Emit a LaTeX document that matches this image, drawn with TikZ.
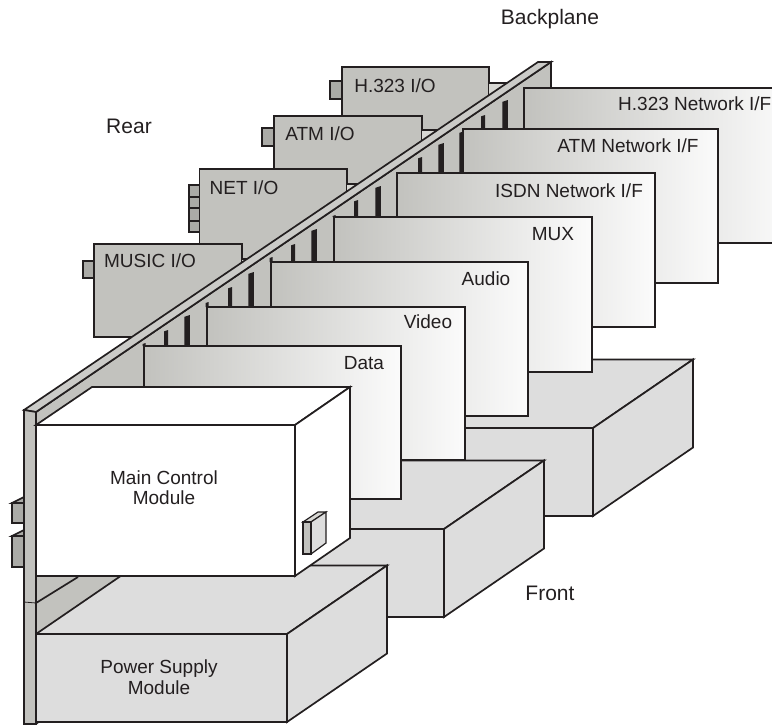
\documentclass[tikz,border=0pt]{standalone}
\usepackage{fontspec}
\setmainfont{Liberation Sans}
\usepackage{tikz}
\usetikzlibrary{calc}
\definecolor{inkline}{HTML}{231F20}
\definecolor{cardgray}{HTML}{C2C2BE}
\definecolor{plugray}{HTML}{ABABA7}
\definecolor{shelfgray}{HTML}{DDDDDD}
\definecolor{slivergray}{HTML}{D8D8D4}
\definecolor{boardend}{HTML}{FBFBFB}
\tikzset{
  wire/.style={draw=inkline, line width=1.7pt, line join=miter},
  rearcard/.style={wire, fill=cardgray},
  plug/.style={wire, fill=plugray},
  shelf/.style={wire, fill=shelfgray},
  module/.style={wire, fill=white},
  boardshade/.style={left color=cardgray, right color=boardend},
  lbl/.style={text=inkline, font=\fontsize{19}{20.5}\selectfont, align=center, inner sep=0pt},
  biglbl/.style={lbl, font=\fontsize{21}{22}\selectfont}
}
% one chassis: front top right corner given
\newcommand{\chassis}[2]{
  \draw[shelf] ({#1-251},#2) -- ({#1-151},{#2-68.5}) -- ({#1+100},{#2-68.5}) -- (#1,#2) -- cycle;
  \draw[shelf] (#1,#2) -- ({#1+100},{#2-68.5}) -- ({#1+100},{#2+19.5}) -- (#1,{#2+88}) -- cycle;
  \draw[shelf] ({#1-251},#2) rectangle (#1,{#2+88});
}
% one board: name, left, top, right, bottom
\newcommand{\board}[5]{
  \shade[boardshade] (#2,#3) rectangle (#4,#5);
  \draw[wire] (#2,#5) -- (#2,#3) -- (#4,#3) -- (#4,#5) -- cycle;
}
\begin{document}
\begin{tikzpicture}[x=1pt,y=-1pt]
  \useasboundingbox (0,0) rectangle (772,724);
  \clip (0,0) rectangle (772,724);
  % rear cards
  \draw[rearcard] (342,170) -- (342,67) -- (489,67) -- (489,170);
  \draw[plug] (330,81) rectangle (342,99);
  \node[lbl] (h323io) at (395,86) {H.323 I/O};
  \draw[rearcard] (274,220) -- (274,116) -- (422,116) -- (422,220);
  \draw[plug] (262,128) rectangle (274,146);
  \node[lbl] (atmio) at (320,134) {ATM I/O};
  \draw[rearcard] (199.5,290) -- (199.5,169) -- (347,169) -- (347,290);
  \foreach \ya/\yb in {185/197,197/208,208/221,221/232}{
    \draw[plug] (189,\ya) rectangle (199.5,\yb);}
  \node[lbl] (netio) at (244,188) {NET I/O};
  \draw[rearcard] (94,244) rectangle (242,337);
  \draw[plug] (83,261) rectangle (94,278);
  \node[lbl] (musicio) at (150,261) {MUSIC I/O};
  % slivers behind the strip
  \foreach \sx/\sy/\ex in {489/83/530,422/130/470,347/184/390,242/259/290}{
    \fill[slivergray] (\sx,\sy) -- (\ex,\sy) -- (\sx,{\sy+40}) -- cycle;
    \draw[wire] (\sx,\sy) -- (\ex,\sy);}
  % backplane wall and top strip
  \draw[wire, fill=cardgray] (36,412) -- (551,62) -- (551,300) -- (36,724) -- cycle;
  \draw[wire, fill=cardgray!85!white] (24,410) -- (538,62) -- (551,62) -- (36,412) -- cycle;
  % slot bars
  \foreach \bx/\ba/\bb/\bw in {166/330/346/4,187/315/346/5.5,207/302/307/3,
      230/287/307/4,251/272/307/5.5,271/257/262/3,
      293/244/262/4,314/229/262/5.5,334/215/217/3,
      356/200/217/4,378/186/217/5.5,
      420/157/173/4,441/143/173/5.5,462/131/173/5.5,
      483/115/129/4,505/100/129/5.5,144/343/346/3}{
    \fill[inkline] ({\bx-\bw/2},{\ba+\bw*0.34}) -- ({\bx+\bw/2},\ba) -- ({\bx+\bw/2},\bb) -- ({\bx-\bw/2},\bb) -- cycle;}
  % boards, back to front
  \board{h323}{524}{88}{790}{243}
  \node[lbl, anchor=east] (h323net) at (771.5,104) {H.323 Network I/F};
  \board{atmnet}{463}{129}{718}{283}
  \node[lbl] (atmnetl) at (628,146) {ATM Network I/F};
  \board{isdn}{397}{173}{655}{327}
  \node[lbl] (isdnl) at (569,191) {ISDN Network I/F};
  \chassis{593}{428}
  \board{mux}{334}{217}{592}{372}
  \node[lbl] (muxl) at (553,234) {MUX};
  \board{audio}{271}{262}{528}{416}
  \node[lbl] (audiol) at (486,279) {Audio};
  \board{video}{207}{307}{465}{460}
  \node[lbl] (videol) at (428,322) {Video};
  \chassis{444}{529}
  \board{data}{144}{346}{401}{499}
  \node[lbl] (datal) at (364,363) {Data};
  % rear plugs at the post
  \draw[plug] (12,503) -- (24,497) -- (24,503) -- cycle;
  \draw[plug] (12,536) -- (24,530) -- (24,536) -- cycle;
  \draw[plug] (12,503) rectangle (24,523);
  \draw[plug] (12,536) rectangle (24,567);
  % power supply
  \chassis{287}{634}
  \node[lbl] (power) at (159,677) {Power Supply\\Module};
  \draw[wire] (36,603) -- (78,577);
  % post
  \draw[wire, fill=cardgray] (24,410) -- (36,412) -- (36,724) -- (24,724) -- cycle;
  \draw[wire, line width=0.8pt] (24,602) -- (36,603);
  % main control module
  \draw[module] (36,425) -- (92,387) -- (350,387) -- (295,425) -- cycle;
  \draw[module] (295,425) -- (350,387) -- (350,538) -- (295,576) -- cycle;
  \draw[module] (36,425) rectangle (295,576);
  \node[lbl] (maincontrol) at (164,487.5) {Main Control\\Module};
  \draw[wire, fill=slivergray, line width=1.2pt] (303,522) -- (318,512) -- (326,512) -- (311,522) -- cycle;
  \draw[wire, fill=shelfgray, line width=1.2pt] (311,522) -- (326,512) -- (326,543) -- (311,554) -- cycle;
  \draw[wire, fill=cardgray, line width=1.2pt] (303,522) rectangle (311,554);
  % free labels
  \node[biglbl] (backplane) at (550,19) {Backplane};
  \node[biglbl] (rear) at (129,126) {Rear};
  \node[biglbl] (front) at (550,593) {Front};
\end{tikzpicture}
\end{document}
